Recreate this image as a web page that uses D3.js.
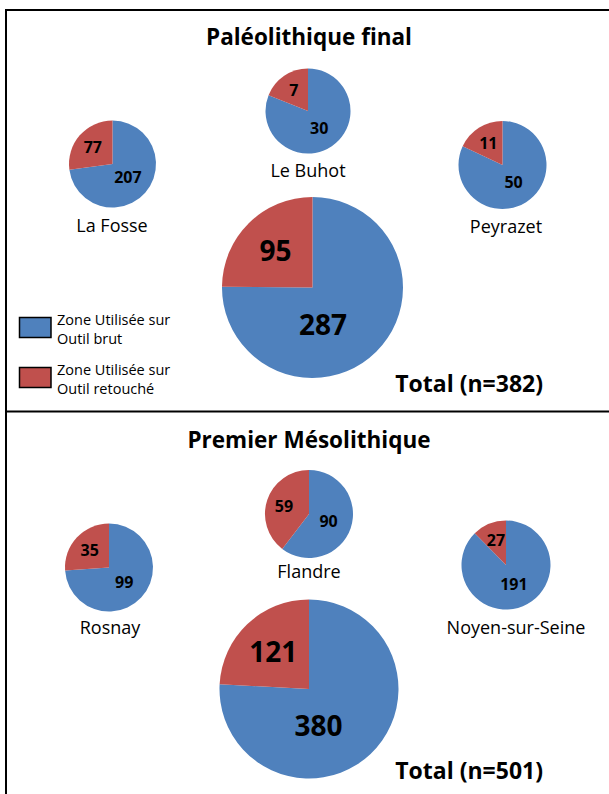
<!DOCTYPE html>
<html>
<head>
<meta charset="utf-8">
<script src="https://cdn.jsdelivr.net/npm/d3@7"></script>
<style>
  html, body { margin: 0; padding: 0; background: #fff; }
  svg { display: block; font-family: "Open Sans", "Noto Sans", sans-serif; }
</style>
</head>
<body>
<script>
// Periods (one panel each)
const periodTitles = ["Paléolithique final", "Premier Mésolithique"];

// Series names (legend)
const seriesNames = ["Zone Utilisée sur Outil brut", "Zone Utilisée sur Outil retouché"];

// Sites, three per period, followed by the period total
const siteNames = [
  ["La Fosse", "Le Buhot", "Peyrazet", "Total (n=382)"],
  ["Rosnay", "Flandre", "Noyen-sur-Seine", "Total (n=501)"]
];

// Counts of used zones on unretouched tools
const brutValues = [
  [207, 30, 50, 287],
  [99, 90, 191, 380]
];

// Counts of used zones on retouched tools
const retoucheValues = [
  [77, 7, 11, 95],
  [35, 59, 27, 121]
];

const colors = d3.scaleOrdinal().domain(seriesNames).range(["#4F81BD", "#C0504D"]);

const W = 609, H = 794;
const svg = d3.select("body").append("svg").attr("width", W).attr("height", H);

// Panel frame and divider
svg.append("path")
  .attr("d", `M6,${H + 5} V10 H${W + 5}`)
  .attr("fill", "none").attr("stroke", "#000").attr("stroke-width", 2);
svg.append("line")
  .attr("x1", 6).attr("x2", W + 5).attr("y1", 411.5).attr("y2", 411.5)
  .attr("stroke", "#000").attr("stroke-width", 2);

// Panel layout: title baseline, pie centres, caption anchors
const panels = [
  {
    titleY: 45,
    pies: [
      { cx: 112.5, cy: 164, r: 43.5, lx: 112, ly: 232 },
      { cx: 308, cy: 111, r: 42.5, lx: 308, ly: 177 },
      { cx: 502.5, cy: 165, r: 44, lx: 506, ly: 233 },
      { cx: 312.5, cy: 287.5, r: 90.5, lx: 543, ly: 392, total: true }
    ]
  },
  {
    titleY: 448,
    pies: [
      { cx: 109, cy: 567.5, r: 44, lx: 110, ly: 634 },
      { cx: 309, cy: 514, r: 44, lx: 309, ly: 578 },
      { cx: 506, cy: 565, r: 44.5, lx: 516, ly: 634 },
      { cx: 309, cy: 689, r: 89.5, lx: 543, ly: 779, total: true }
    ]
  }
];

const pie = d3.pie().sort(null).value(d => d.value).startAngle(0).endAngle(2 * Math.PI);

panels.forEach((panel, p) => {
  svg.append("text")
    .attr("x", 309).attr("y", panel.titleY)
    .attr("text-anchor", "middle")
    .attr("font-weight", 700).attr("font-size", 22.5)
    .attr("fill", "#000")
    .text(periodTitles[p]);

  panel.pies.forEach((pos, i) => {
    const data = [
      { key: seriesNames[0], value: brutValues[p][i] },
      { key: seriesNames[1], value: retoucheValues[p][i] }
    ];
    const arcs = pie(data);
    const arc = d3.arc().innerRadius(0).outerRadius(pos.r);
    const g = svg.append("g").attr("transform", `translate(${pos.cx},${pos.cy})`);

    g.selectAll("path").data(arcs).join("path")
      .attr("d", arc)
      .attr("fill", d => colors(d.data.key));

    // value labels placed inside each slice
    g.selectAll("text").data(arcs).join("text")
      .attr("transform", (d, j) => {
        let a = (d.startAngle + d.endAngle) / 2;
        let k;
        if (j === 1) { k = pos.total ? 0.58 : 0.6; }
        else if (pos.total) { k = 0.42; a += 0.5; }
        else { k = 0.47; }
        const x = Math.sin(a) * pos.r * k;
        const y = -Math.cos(a) * pos.r * k;
        return `translate(${x},${y})`;
      })
      .attr("text-anchor", "middle")
      .attr("dominant-baseline", "central")
      .attr("font-weight", 700)
      .attr("font-size", pos.total ? 28 : 16)
      .attr("fill", "#000")
      .text(d => d.data.value);

    // site caption / total caption
    svg.append("text")
      .attr("x", pos.lx).attr("y", pos.ly)
      .attr("text-anchor", pos.total ? "end" : "middle")
      .attr("font-weight", pos.total ? 700 : 400)
      .attr("font-size", pos.total ? 23 : 18)
      .attr("fill", "#000")
      .text(siteNames[p][i]);
  });
});

// Legend (top panel)
const legendItems = [
  { key: seriesNames[0], lines: ["Zone Utilisée sur", "Outil brut"], y: 317 },
  { key: seriesNames[1], lines: ["Zone Utilisée sur", "Outil retouché"], y: 367 }
];
const legend = svg.append("g");
legendItems.forEach(item => {
  legend.append("rect")
    .attr("x", 19.5).attr("y", item.y + 0.5).attr("width", 31.5).attr("height", 20)
    .attr("fill", colors(item.key)).attr("stroke", "#000").attr("stroke-width", 1.5);
  item.lines.forEach((line, li) => {
    legend.append("text")
      .attr("x", 57).attr("y", item.y + 8 + li * 19)
      .attr("font-size", 14.5)
      .attr("fill", "#000")
      .text(line);
  });
});
</script>
</body>
</html>
